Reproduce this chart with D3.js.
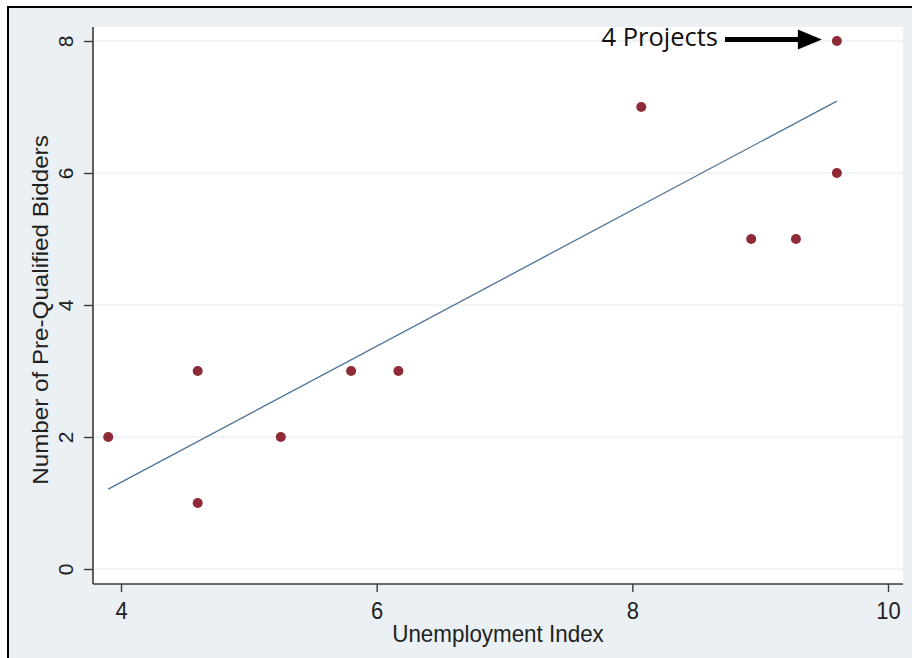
<!DOCTYPE html>
<html>
<head>
<meta charset="utf-8">
<script src="https://cdn.jsdelivr.net/npm/d3@7"></script>
<style>
  html, body { margin: 0; padding: 0; background: #fff; }
  svg { display: block; }
</style>
</head>
<body>
<svg id="chart" width="912" height="658"></svg>
<script>
// Unemployment index vs. number of pre-qualified bidders per project
const unemploymentIndex = [3.9, 4.6, 4.6, 5.25, 5.8, 6.17, 8.07, 8.93, 9.28, 9.6, 9.6];
const preQualifiedBidders = [2, 3, 1, 2, 3, 3, 7, 5, 5, 6, 8];

// Fitted regression line, drawn between its two end values
const fitX = [3.9, 9.6];
const fitY = [1.21, 7.09];

const xTicks = [4, 6, 8, 10];
const yTicks = [0, 2, 4, 6, 8];

const annotationText = "4 Projects";

const svg = d3.select("#chart");
const W = 912, H = 658;
const sans = "Liberation Sans, Arial, sans-serif";
const textColor = "#222";

// Framed background
svg.append("rect").attr("x", 0).attr("y", 0).attr("width", W).attr("height", H).attr("fill", "#ffffff");
svg.append("rect").attr("x", 9).attr("y", 7).attr("width", W - 9).attr("height", H - 7).attr("fill", "#eaf0f3");
svg.append("line").attr("x1", 8).attr("x2", W).attr("y1", 7).attr("y2", 7)
  .attr("stroke", "#000").attr("stroke-width", 2);
svg.append("line").attr("x1", 8).attr("x2", 8).attr("y1", 6).attr("y2", H)
  .attr("stroke", "#000").attr("stroke-width", 2);

// Plot region
const region = { left: 93, right: 903, top: 27, bottom: 584 };
svg.append("rect")
  .attr("x", region.left).attr("y", region.top)
  .attr("width", region.right - region.left).attr("height", region.bottom - region.top)
  .attr("fill", "#ffffff");

const x = d3.scaleLinear().domain([4, 10]).range([121, 888]);
const y = d3.scaleLinear().domain([0, 8]).range([569, 41]);

// Horizontal grid lines
svg.append("g").selectAll("line").data(yTicks).join("line")
  .attr("x1", region.left).attr("x2", region.right)
  .attr("y1", d => y(d)).attr("y2", d => y(d))
  .attr("stroke", "#eaf0f3").attr("stroke-width", 1.5);

// Axes
const axisColor = "#3a3a3a";
const xAxis = d3.axisBottom(x).tickValues(xTicks).tickSize(8).tickFormat(d3.format("d"));
const gx = svg.append("g").attr("transform", `translate(0,${region.bottom})`).call(xAxis);
gx.select(".domain").attr("d", `M${region.left},0H${region.right}`).attr("stroke", axisColor).attr("stroke-width", 1.6);
gx.selectAll(".tick line").attr("stroke", axisColor).attr("stroke-width", 1.4);
gx.selectAll(".tick text")
  .attr("y", null).attr("dy", null)
  .attr("transform", "translate(0,35) scale(1,1.08)")
  .attr("font-family", sans).attr("font-size", 22).attr("fill", textColor);

const yAxis = d3.axisLeft(y).tickValues(yTicks).tickSize(9).tickFormat(d3.format("d"));
const gy = svg.append("g").attr("transform", `translate(${region.left},0)`).call(yAxis);
gy.select(".domain").attr("d", `M0,${region.top}V${region.bottom}`).attr("stroke", axisColor).attr("stroke-width", 1.6);
gy.selectAll(".tick line").attr("stroke", axisColor).attr("stroke-width", 1.4);
gy.selectAll(".tick text")
  .attr("x", null).attr("dy", null)
  .attr("transform", "translate(-28,0) rotate(-90)")
  .attr("text-anchor", "middle")
  .attr("dominant-baseline", "central")
  .attr("font-family", sans).attr("font-size", 21).attr("fill", textColor);

// Axis titles
svg.append("text")
  .attr("transform", "translate(498,642) scale(1,1.05)")
  .attr("text-anchor", "middle")
  .attr("font-family", sans).attr("font-size", 22.4).attr("fill", textColor)
  .text("Unemployment Index");
svg.append("text")
  .attr("transform", "translate(40,310) scale(1,1.1) rotate(-90)")
  .attr("text-anchor", "middle")
  .attr("dominant-baseline", "central")
  .attr("font-family", sans).attr("font-size", 22).attr("fill", textColor)
  .text("Number of Pre-Qualified Bidders");

// Fitted line
svg.append("path")
  .datum(fitX.map((v, i) => [v, fitY[i]]))
  .attr("d", d3.line().x(d => x(d[0])).y(d => y(d[1])))
  .attr("fill", "none").attr("stroke", "#4f7396").attr("stroke-width", 1.3);

// Observations
svg.append("g").selectAll("circle")
  .data(unemploymentIndex.map((v, i) => ({ x: v, y: preQualifiedBidders[i] })))
  .join("circle")
  .attr("cx", d => x(d.x)).attr("cy", d => y(d.y)).attr("r", 5)
  .attr("fill", "#8e2b36");

// Annotation with arrow pointing at the top observation
const topIdx = preQualifiedBidders.indexOf(d3.max(preQualifiedBidders));
const tipX = x(unemploymentIndex[topIdx]) - 15;
const tipY = y(preQualifiedBidders[topIdx]) - 1.5;
svg.append("text")
  .attr("x", 718).attr("y", 46)
  .attr("text-anchor", "end")
  .attr("font-family", "Open Sans, Noto Sans, sans-serif").attr("font-size", 25.5).attr("fill", "#111")
  .text(annotationText);
svg.append("line")
  .attr("x1", 725).attr("x2", tipX - 20).attr("y1", tipY).attr("y2", tipY)
  .attr("stroke", "#000").attr("stroke-width", 5);
svg.append("path")
  .attr("d", `M${tipX - 24},${tipY - 10}L${tipX},${tipY}L${tipX - 24},${tipY + 10}Z`)
  .attr("fill", "#000");
</script>
</body>
</html>
